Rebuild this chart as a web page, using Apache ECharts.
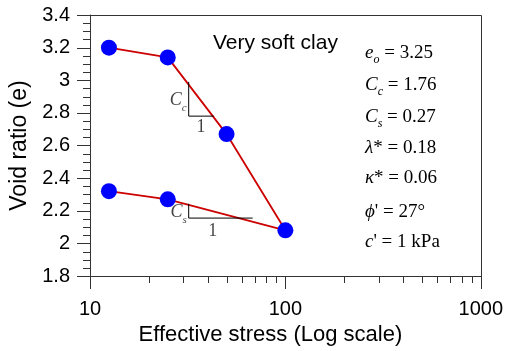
<!DOCTYPE html>
<html><head><meta charset="utf-8">
<script src="https://cdn.jsdelivr.net/npm/echarts@6/dist/echarts.min.js"></script>
<style>html,body{margin:0;padding:0;background:#fff}#c{width:506px;height:351px}</style>
</head><body><div id="c"></div>
<script>
// ---- data ----
const stress = [12.5, 25, 50, 100, 25, 12.5];
const voidRatio = [3.2, 3.14, 2.67, 2.08, 2.27, 2.32];
const ccTriangleX = [32, 32, 43];
const ccTriangleY = [2.99, 2.78, 2.78];
const csTriangleX = [32, 32, 68];
const csTriangleY = [2.243, 2.155, 2.155];
const oneLabelX = [37, 42.5];
const xMajorTicks = [10, 100, 1000];
const xMinorTicks = [20, 30, 40, 50, 60, 70, 80, 90, 200, 300, 400, 500, 600, 700, 800, 900];
const yMajorTicks = [1.8, 2.0, 2.2, 2.4, 2.6, 2.8, 3.0, 3.2, 3.4];
const yMinorTicks = [1.85, 1.9, 1.95, 2.05, 2.1, 2.15, 2.25, 2.3, 2.35, 2.45, 2.5, 2.55, 2.65, 2.7, 2.75,
  2.85, 2.9, 2.95, 3.05, 3.1, 3.15, 3.25, 3.3, 3.35];
const paramLines = [
  '{i|e}{sub|o}{n| = 3.25}',
  '{i|C}{sub|c}{n| = 1.76}',
  '{i|C}{sub|s}{n| = 0.27}',
  '{i|λ}{n|* = 0.18}',
  '{i|κ}{n|* = 0.06}',
  '{i|ϕ}{n|\' = 27°}',
  '{i|c}{n|\' = 1 kPa}'
];
const paramY = [53, 85, 117, 148, 178, 212, 242];
const soilLabel = 'Very soft clay';

const SERIF = 'Liberation Serif, Times New Roman, serif';
const richParams = {
  i: {fontFamily: SERIF, fontStyle: 'italic', fontSize: 19, lineHeight: 26, color: '#000'},
  n: {fontFamily: SERIF, fontSize: 19, lineHeight: 26, color: '#000'},
  sub: {fontFamily: SERIF, fontStyle: 'italic', fontSize: 12, lineHeight: 12, verticalAlign: 'bottom', color: '#000'}
};
const richSmall = {
  i: {fontFamily: SERIF, fontStyle: 'italic', fontSize: 18, lineHeight: 26, color: '#111'},
  n: {fontFamily: SERIF, fontSize: 18, lineHeight: 26, color: '#111'},
  sub: {fontFamily: SERIF, fontStyle: 'italic', fontSize: 11, lineHeight: 12, verticalAlign: 'bottom', color: '#111'}
};

const chart = echarts.init(document.getElementById('c'), null, {renderer: 'canvas'});
const AX = '#333';
const graphics = [
  {type: 'text', x: 213, y: 43, style: {text: soilLabel, fontSize: 21, fill: '#000', verticalAlign: 'middle'}}
];
paramLines.forEach((t, i) => {
  graphics.push({type: 'text', x: 365, y: paramY[i], style: {text: t, rich: richParams, align: 'left', verticalAlign: 'middle'}});
});

// one custom series draws the frame and every tick, through the axes' own scales
const axisDecor = {
  type: 'custom', clip: false, silent: true, z: 10,
  data: [[1000, 3.4]],
  encode: {x: 0, y: 1},
  renderItem: function (params, api) {
    const xMax = api.value(0), yMax = api.value(1), xMin = 10, yMin = 1.8;
    const children = [];
    const seg = (x1, y1, x2, y2) => children.push({type: 'line', shape: {x1, y1, x2, y2}, style: {stroke: AX, lineWidth: 1}});
    const bottom = Math.round(api.coord([xMin, yMin])[1]);
    const left = Math.round(api.coord([xMin, yMin])[0]);
    xMajorTicks.forEach(v => { const x = Math.round(api.coord([v, yMin])[0]) + 0.5; seg(x, bottom, x, bottom + 13); });
    xMinorTicks.forEach(v => { const x = Math.round(api.coord([v, yMin])[0]) + 0.5; seg(x, bottom, x, bottom + 7); });
    yMajorTicks.forEach(v => { const y = Math.round(api.coord([xMin, v])[1]) + 0.5; seg(left - 13, y, left, y); });
    yMinorTicks.forEach(v => { const y = Math.round(api.coord([xMin, v])[1]) + 0.5; seg(left - 7, y, left, y); });
    const tr = api.coord([xMax, yMax]);
    const xr = Math.round(tr[0]) + 0.5, yt = Math.round(tr[1]) + 0.5;
    seg(left, yt, xr, yt);
    seg(xr, yt, xr, bottom);
    return {type: 'group', children: children};
  }
};

chart.setOption({
  animation: false,
  grid: {left: 90, right: 24.5, top: 15, bottom: 75},
  graphic: graphics,
  xAxis: {
    type: 'log', logBase: 10, min: 10, max: 1000,
    name: 'Effective stress (Log scale)', nameLocation: 'middle', nameGap: 42,
    nameTextStyle: {fontSize: 22, color: '#000', padding: [0, 30, 0, 0]},
    axisLine: {show: true, lineStyle: {color: AX, width: 1}},
    axisTick: {show: false},
    splitLine: {show: false},
    axisLabel: {fontSize: 20, color: '#000', margin: 23, formatter: v => String(v)}
  },
  yAxis: {
    type: 'value', min: 1.8, max: 3.4, interval: 0.2,
    name: 'Void ratio (e)', nameLocation: 'middle', nameGap: 54,
    nameTextStyle: {fontSize: 23, color: '#000'},
    axisLine: {show: true, lineStyle: {color: AX, width: 1}},
    axisTick: {show: false},
    minorTick: {show: false},
    splitLine: {show: false},
    axisLabel: {fontSize: 20, color: '#000', margin: 20}
  },
  series: [
    {
      type: 'line', data: stress.map((s, i) => [s, voidRatio[i]]),
      lineStyle: {color: '#cc0000', width: 1.8},
      symbol: 'circle', symbolSize: 16, itemStyle: {color: '#0000ff'}
    },
    {
      type: 'line', data: ccTriangleX.map((x, i) => [x, ccTriangleY[i]]),
      symbol: 'none', lineStyle: {color: '#000', width: 1}
    },
    {
      type: 'line', data: csTriangleX.map((x, i) => [x, csTriangleY[i]]),
      symbol: 'none', lineStyle: {color: '#000', width: 1}
    },
    {
      type: 'scatter', symbolSize: 0, silent: true,
      itemStyle: {color: 'transparent'},
      label: {show: true, rich: richSmall, color: '#000'},
      data: [
        {value: [ccTriangleX[0], (ccTriangleY[0] + ccTriangleY[1]) / 2 - 0.01], label: {formatter: '{i|C}{sub|c}', position: 'left', distance: 2}},
        {value: [csTriangleX[0], (csTriangleY[0] + csTriangleY[1]) / 2 - 0.01], label: {formatter: '{i|C}{sub|s}', position: 'left', distance: 2}},
        {value: [oneLabelX[0], ccTriangleY[1]], label: {formatter: '{n|1}', position: 'bottom', distance: -2}},
        {value: [oneLabelX[1], csTriangleY[1]], label: {formatter: '{n|1}', position: 'bottom', distance: 0}}
      ]
    },
    axisDecor
  ]
});
</script>
</body></html>
